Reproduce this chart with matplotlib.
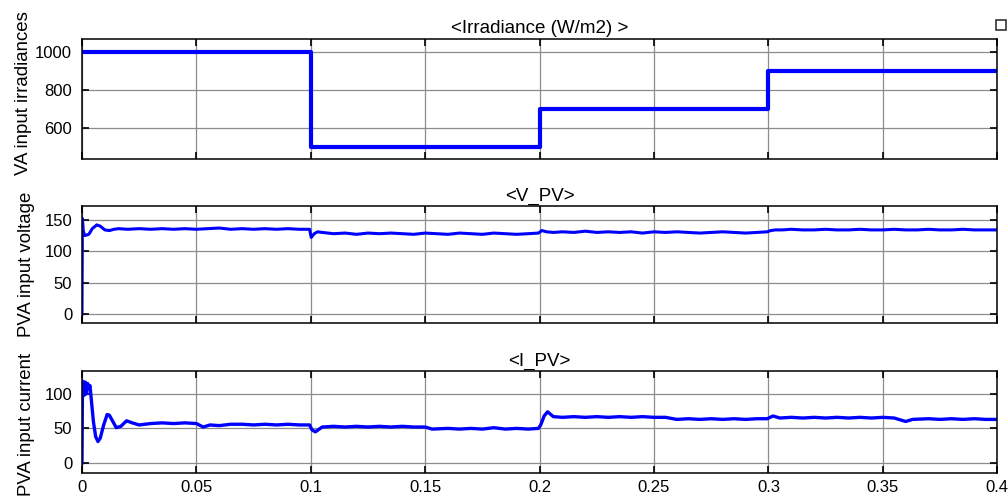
import matplotlib.pyplot as plt
from matplotlib.patches import Rectangle

# irradiance steps (W/m2)
t_irr = [0.0, 0.1, 0.1, 0.2, 0.2, 0.3, 0.3, 0.4]
irr = [1000, 1000, 500, 500, 700, 700, 900, 900]

# PV voltage
t_v = [0.0, 0.0002, 0.0006, 0.0012, 0.003, 0.0045, 0.0065, 0.008, 0.010, 0.012,
       0.014, 0.016, 0.020, 0.025, 0.030, 0.035, 0.040, 0.045, 0.050, 0.055,
       0.060, 0.065, 0.070, 0.075, 0.080, 0.085, 0.090, 0.095, 0.0995, 0.1002,
       0.1015, 0.103, 0.105, 0.110, 0.115, 0.120, 0.125, 0.130, 0.135, 0.140,
       0.145, 0.150, 0.155, 0.160, 0.165, 0.170, 0.175, 0.180, 0.185, 0.190,
       0.195, 0.1995, 0.201, 0.203, 0.206, 0.210, 0.215, 0.220, 0.225, 0.230,
       0.235, 0.240, 0.245, 0.250, 0.255, 0.260, 0.265, 0.270, 0.275, 0.280,
       0.285, 0.290, 0.295, 0.2995, 0.301, 0.303, 0.306, 0.310, 0.315, 0.320,
       0.325, 0.330, 0.335, 0.340, 0.345, 0.350, 0.355, 0.360, 0.365, 0.370,
       0.375, 0.380, 0.385, 0.390, 0.395, 0.400]
v_pv = [0, 152, 132, 125, 127, 136, 142, 140, 134, 133,
        135, 136, 135, 136, 135, 136, 135, 136, 135, 136,
        137, 135, 136, 135, 136, 135, 136, 135, 135, 122,
        128, 131, 130, 128, 129, 127, 129, 128, 129, 128,
        127, 129, 128, 127, 129, 128, 127, 129, 128, 127,
        128, 129, 133, 131, 130, 131, 130, 132, 130, 131,
        130, 131, 129, 131, 130, 131, 130, 129, 130, 131,
        130, 129, 130, 131, 133, 134, 134, 135, 134, 134,
        135, 134, 134, 135, 134, 134, 135, 134, 134, 135,
        134, 134, 135, 134, 134, 134]

# PV current
t_i = [0.0, 0.0002, 0.0005, 0.001, 0.0015, 0.002, 0.0025, 0.003, 0.0035, 0.004,
       0.005, 0.006, 0.007, 0.008, 0.0095, 0.011, 0.012, 0.0135, 0.015, 0.017,
       0.0195, 0.022, 0.025, 0.030, 0.035, 0.040, 0.045, 0.050, 0.053, 0.056,
       0.060, 0.065, 0.070, 0.075, 0.080, 0.085, 0.090, 0.095, 0.0995, 0.1005,
       0.102, 0.105, 0.110, 0.115, 0.120, 0.125, 0.130, 0.135, 0.140, 0.145,
       0.150, 0.153, 0.160, 0.165, 0.170, 0.175, 0.180, 0.185, 0.190, 0.195,
       0.1995, 0.2005, 0.202, 0.2035, 0.206, 0.210, 0.215, 0.220, 0.225, 0.230,
       0.235, 0.240, 0.245, 0.250, 0.255, 0.260, 0.265, 0.270, 0.275, 0.280,
       0.285, 0.290, 0.295, 0.2995, 0.302, 0.305, 0.310, 0.315, 0.320, 0.325,
       0.330, 0.335, 0.340, 0.345, 0.350, 0.355, 0.360, 0.363, 0.370, 0.375,
       0.380, 0.385, 0.390, 0.395, 0.400]
i_pv = [0, 95, 118, 98, 117, 100, 115, 108, 112, 95,
        60, 38, 31, 36, 55, 70, 69, 60, 51, 53,
        61, 58, 55, 57, 58, 57, 58, 57, 52, 55,
        54, 56, 56, 55, 56, 55, 56, 55, 55, 48,
        45, 52, 53, 52, 53, 52, 53, 52, 53, 52,
        52, 49, 50, 49, 50, 49, 51, 49, 50, 49,
        50, 55, 68, 74, 67, 66, 67, 66, 67, 66,
        67, 66, 67, 66, 66, 63, 64, 63, 64, 63,
        64, 63, 64, 64, 68, 65, 66, 65, 66, 65,
        66, 65, 66, 65, 66, 65, 60, 63, 64, 63,
        64, 63, 64, 63, 63]

plt.rcParams['font.family'] = ['Liberation Sans', 'DejaVu Sans']

fig = plt.figure(figsize=(10.08, 4.97), dpi=100)
ax1 = fig.add_axes([0.0813, 0.680, 0.908, 0.2415])
ax2 = fig.add_axes([0.0813, 0.350, 0.908, 0.2355])
ax3 = fig.add_axes([0.0813, 0.0483, 0.908, 0.2052])

blue = '#0000ff'
ax1.plot(t_irr, irr, color=blue, lw=3.0)
ax2.plot(t_v, v_pv, color=blue, lw=2.2)
ax3.plot(t_i, i_pv, color=blue, lw=2.4)

ax1.set_ylim(435, 1068)
ax1.set_yticks([600, 800, 1000])
ax2.set_ylim(-14, 172)
ax2.set_yticks([0, 50, 100, 150])
ax3.set_ylim(-14.5, 133)
ax3.set_yticks([0, 50, 100])

xt = [0, 0.05, 0.1, 0.15, 0.2, 0.25, 0.3, 0.35, 0.4]
for ax in (ax1, ax2, ax3):
    ax.set_xlim(0, 0.4)
    ax.set_xticks(xt)
    ax.grid(True, color='0.55', lw=0.9)
    ax.tick_params(direction='in', top=True, right=True, length=5, width=1.2,
                   labelsize=12, pad=7)
    for s in ax.spines.values():
        s.set_linewidth(1.1)
ax1.tick_params(labelbottom=False)
ax2.tick_params(labelbottom=False)
ax3.set_xticklabels(['0', '0.05', '0.1', '0.15', '0.2', '0.25', '0.3', '0.35', '0.4'])
ax3.tick_params(axis='x', pad=5)

ax1.set_title('<Irradiance (W/m2) >', fontsize=13.5, pad=4)
ax2.set_title('<V_PV>', fontsize=13.5, pad=4)
ax3.set_title('<I_PV>', fontsize=13.5, pad=4)

ax1.set_ylabel('VA input irradiances', fontsize=13.4)
ax1.yaxis.set_label_coords(-0.0546, 0.55)
ax2.set_ylabel('PVA input voltage', fontsize=13.4)
ax2.yaxis.set_label_coords(-0.0514, 0.5)
ax3.set_ylabel('PVA input current', fontsize=13.4)
ax3.yaxis.set_label_coords(-0.0514, 0.48)

# small window icon in the top right corner
fig.patches.append(Rectangle((0.988, 0.94), 0.01, 0.02, transform=fig.transFigure,
                             fill=False, edgecolor='0.2', lw=1.2))

fig.savefig('out.png', dpi=100)
